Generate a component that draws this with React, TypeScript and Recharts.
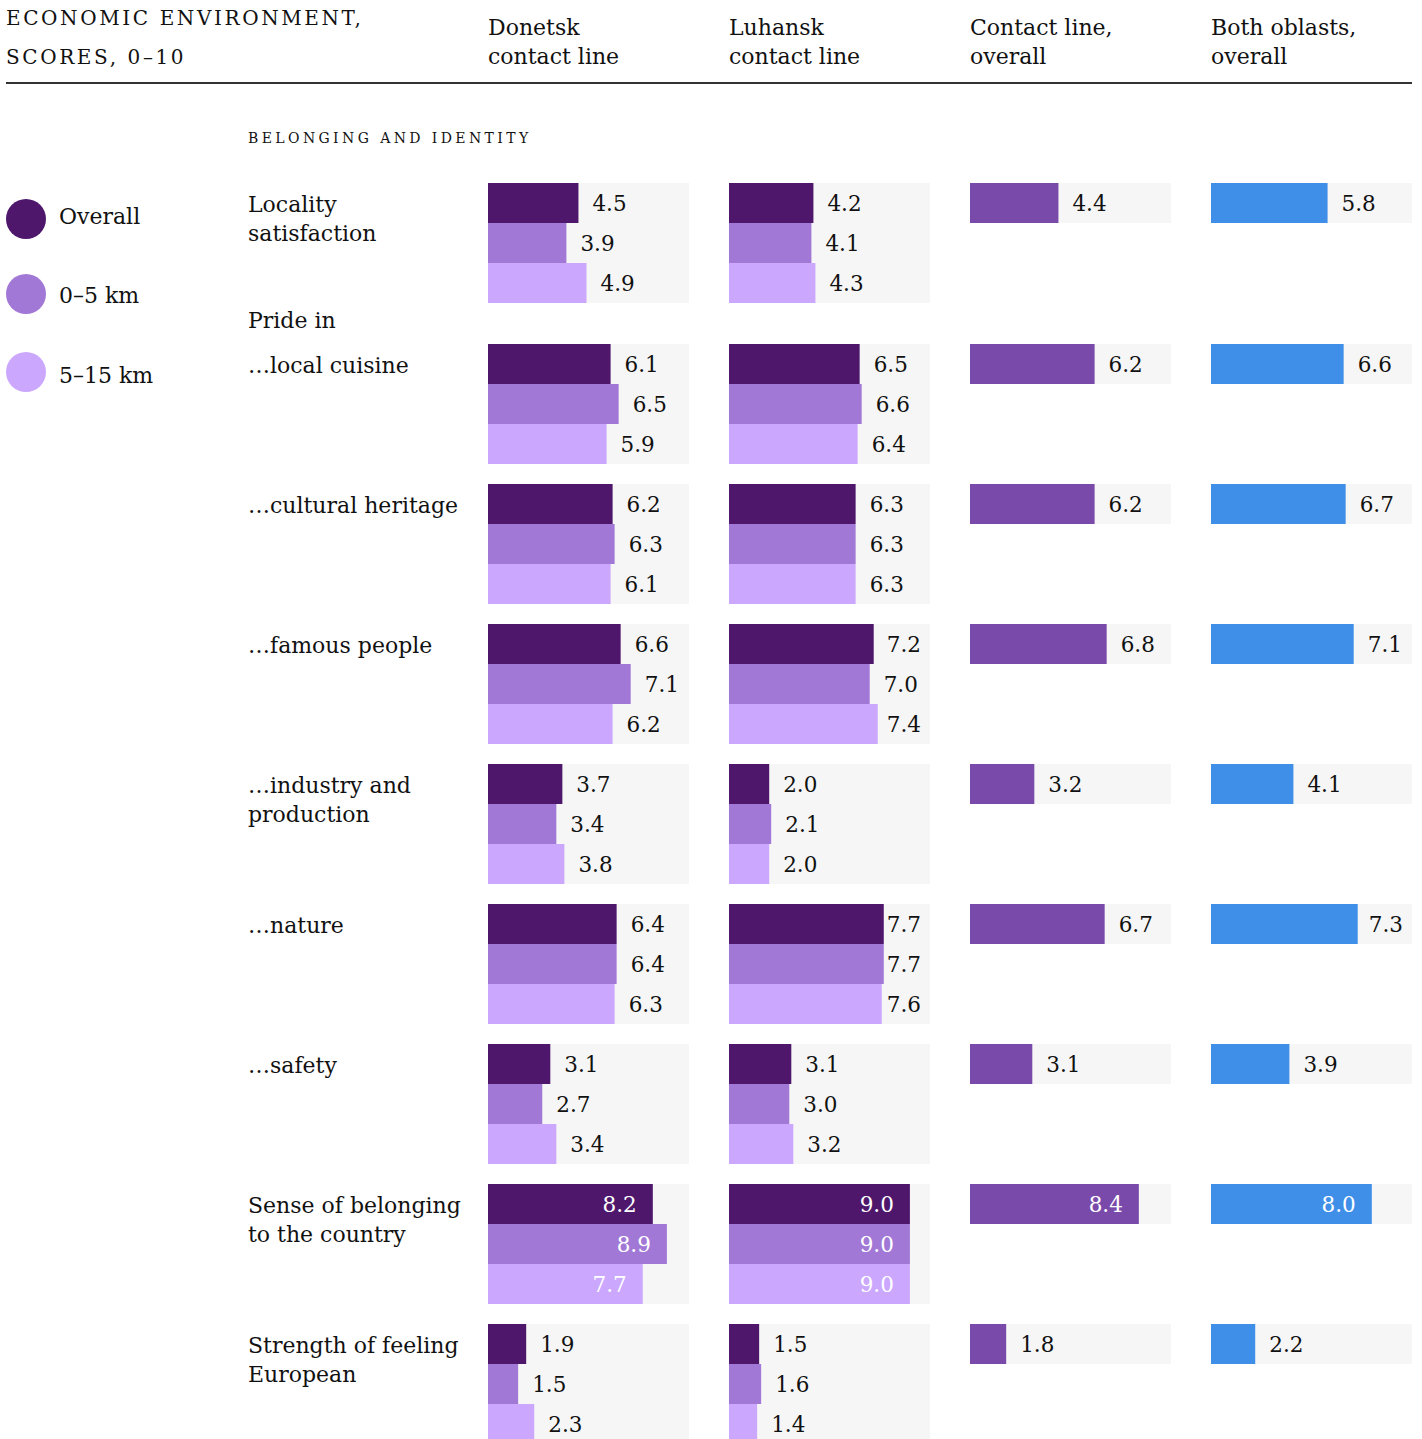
import { BarChart, Bar, XAxis, YAxis, Cell } from 'recharts'

const ROW_LABELS = [
  ['Locality', 'satisfaction'],
  ['…local cuisine'],
  ['…cultural heritage'],
  ['…famous people'],
  ['…industry and', 'production'],
  ['…nature'],
  ['…safety'],
  ['Sense of belonging', 'to the country'],
  ['Strength of feeling', 'European'],
]

const donetskOverall = [4.5, 6.1, 6.2, 6.6, 3.7, 6.4, 3.1, 8.2, 1.9]
const donetskNear = [3.9, 6.5, 6.3, 7.1, 3.4, 6.4, 2.7, 8.9, 1.5]
const donetskFar = [4.9, 5.9, 6.1, 6.2, 3.8, 6.3, 3.4, 7.7, 2.3]
const luhanskOverall = [4.2, 6.5, 6.3, 7.2, 2.0, 7.7, 3.1, 9.0, 1.5]
const luhanskNear = [4.1, 6.6, 6.3, 7.0, 2.1, 7.7, 3.0, 9.0, 1.6]
const luhanskFar = [4.3, 6.4, 6.3, 7.4, 2.0, 7.6, 3.2, 9.0, 1.4]
const contactOverall = [4.4, 6.2, 6.2, 6.8, 3.2, 6.7, 3.1, 8.4, 1.8]
const bothOverall = [5.8, 6.6, 6.7, 7.1, 4.1, 7.3, 3.9, 8.0, 2.2]

const COLUMN_TITLES = [
  ['Donetsk', 'contact line'],
  ['Luhansk', 'contact line'],
  ['Contact line,', 'overall'],
  ['Both oblasts,', 'overall'],
]
const LEGEND = ['Overall', '0–5 km', '5–15 km']

const C_OVERALL = '#4e176c'
const C_NEAR = '#a278d6'
const C_FAR = '#cba8fd'
const C_CONTACT = '#7a4aaa'
const C_BOTH = '#3f8fe9'
const PANEL_BG = '#f6f6f6'

const FONT = '"DejaVu Serif", "Liberation Serif", serif'
const PANEL_W = 201
const BAR_H = 40
const COL_X = [488, 729, 970, 1211]
const ROW_Y = [183, 344, 484, 624, 764, 904, 1044, 1184, 1324]
const LEGEND_CY = [219, 294, 372]
const LEGEND_BASE = [224, 303, 383]

function ValueLabel(props: any) {
  const { x, y, width, height, value, inside } = props
  const end = x + width
  const cy = y + height / 2
  const txt = Number(value).toFixed(1)
  if (inside) {
    return (
      <text x={end - 16} y={cy} dy="0.36em" textAnchor="end" fill="#fff" fontSize={21.5} fontFamily={FONT}>
        {txt}
      </text>
    )
  }
  const w = 34
  const clamp = end + 14 + w > PANEL_W - 9
  return (
    <text
      x={clamp ? PANEL_W - 9 : end + 14}
      y={cy}
      dy="0.36em"
      textAnchor={clamp ? 'end' : 'start'}
      fill="#111"
      fontSize={21.5}
      fontFamily={FONT}
    >
      {txt}
    </text>
  )
}

function MiniBars({ values, colors, inside }: { values: number[]; colors: string[]; inside: boolean }) {
  const data = values.map((v, i) => ({ k: 'b' + i, v }))
  return (
    <BarChart
      width={PANEL_W}
      height={BAR_H * values.length}
      data={data}
      layout="vertical"
      margin={{ top: 0, right: 0, bottom: 0, left: 0 }}
      barCategoryGap={0}
    >
      <XAxis type="number" domain={[0, 10]} hide />
      <YAxis type="category" dataKey="k" hide />
      <Bar
        dataKey="v"
        isAnimationActive={false}
        background={{ fill: PANEL_BG }}
        label={(p: any) => <ValueLabel {...p} inside={inside} />}
      >
        {data.map((_, i) => (
          <Cell key={i} fill={colors[i]} />
        ))}
      </Bar>
    </BarChart>
  )
}

export default function App() {
  return (
    <div style={{ position: 'relative', width: 1422, height: 1439, overflow: 'hidden', fontFamily: FONT, color: '#111' }}>
      <style>{`body{margin:0}`}</style>
      <div style={{ position: 'absolute', left: 6, top: -1, fontSize: 20, letterSpacing: 2.6, lineHeight: '39px' }}>
        ECONOMIC ENVIRONMENT,
        <br />
        SCORES, 0–10
      </div>
      {COLUMN_TITLES.map((t, i) => (
        <div key={i} style={{ position: 'absolute', left: COL_X[i], top: 13, fontSize: 22, lineHeight: '29px' }}>
          {t[0]}
          <br />
          {t[1]}
        </div>
      ))}
      <div style={{ position: 'absolute', left: 6, top: 82, width: 1406, height: 2, background: '#333' }} />
      <div style={{ position: 'absolute', left: 248, top: 130, fontSize: 14, letterSpacing: 3.4, lineHeight: '16px' }}>
        BELONGING AND IDENTITY
      </div>
      {LEGEND.map((l, i) => (
        <div key={l}>
          <div
            style={{
              position: 'absolute', left: 6, top: LEGEND_CY[i] - 20, width: 40, height: 40,
              borderRadius: 20, background: [C_OVERALL, C_NEAR, C_FAR][i],
            }}
          />
          <div style={{ position: 'absolute', left: 59, top: LEGEND_BASE[i] - 22, fontSize: 22, lineHeight: '29px' }}>{l}</div>
        </div>
      ))}
      <div style={{ position: 'absolute', left: 248, top: 306, fontSize: 22, lineHeight: '29px' }}>Pride in</div>
      {ROW_LABELS.map((lines, r) => {
        const inside =
          Math.max(
            donetskOverall[r], donetskNear[r], donetskFar[r],
            luhanskOverall[r], luhanskNear[r], luhanskFar[r],
            contactOverall[r], bothOverall[r]
          ) >= 8.5
        return (
          <div key={r}>
            <div style={{ position: 'absolute', left: 248, top: ROW_Y[r] + 7, fontSize: 22, lineHeight: '29px' }}>
              {lines.map((s, j) => (
                <div key={j}>{s}</div>
              ))}
            </div>
            <div style={{ position: 'absolute', left: COL_X[0], top: ROW_Y[r] }}>
              <MiniBars values={[donetskOverall[r], donetskNear[r], donetskFar[r]]} colors={[C_OVERALL, C_NEAR, C_FAR]} inside={inside} />
            </div>
            <div style={{ position: 'absolute', left: COL_X[1], top: ROW_Y[r] }}>
              <MiniBars values={[luhanskOverall[r], luhanskNear[r], luhanskFar[r]]} colors={[C_OVERALL, C_NEAR, C_FAR]} inside={inside} />
            </div>
            <div style={{ position: 'absolute', left: COL_X[2], top: ROW_Y[r] }}>
              <MiniBars values={[contactOverall[r]]} colors={[C_CONTACT]} inside={inside} />
            </div>
            <div style={{ position: 'absolute', left: COL_X[3], top: ROW_Y[r] }}>
              <MiniBars values={[bothOverall[r]]} colors={[C_BOTH]} inside={inside} />
            </div>
          </div>
        )
      })}
    </div>
  )
}
